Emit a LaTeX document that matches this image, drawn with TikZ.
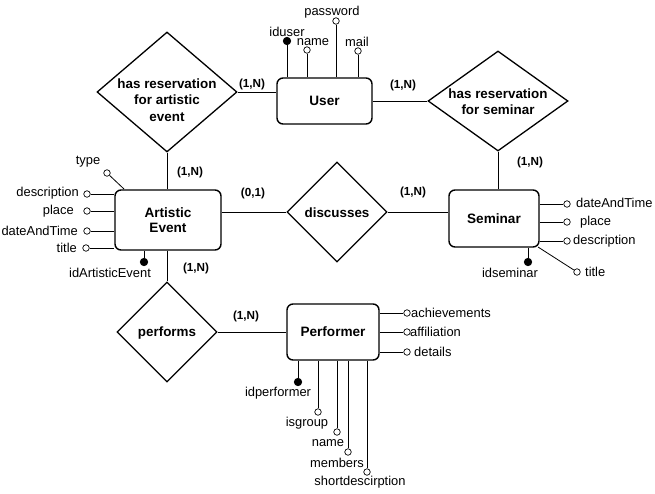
\documentclass[tikz,border=0pt]{standalone}
\usepackage{fontspec}
\setmainfont{Liberation Sans}
\usetikzlibrary{shapes.geometric,calc}
\begin{document}
\begin{tikzpicture}[x=1pt,y=-1pt,
  entity/.style={draw,line width=1.4pt,rounded corners=6pt,fill=white,inner sep=0pt,
    font=\fontsize{13.6}{15.5}\selectfont\bfseries,align=center},
  rel/.style={draw,diamond,line width=1.3pt,inner sep=0pt,fill=white},
  reltext/.style={font=\fontsize{13.4}{16.5}\selectfont\bfseries,align=center,inner sep=0pt},
  card/.style={font=\fontsize{11.7}{13}\selectfont\bfseries,inner sep=0pt},
  lbl/.style={font=\fontsize{12.9}{14}\selectfont,inner sep=0pt},
  attr/.style={circle,draw,fill=white,inner sep=0pt,minimum size=6.5pt,line width=0.7pt},
  keyattr/.style={circle,draw,fill=black,inner sep=0pt,minimum size=7.5pt,line width=0.7pt},
  conn/.style={line width=0.8pt},
]
\useasboundingbox (0,0) rectangle (655,493);

% entities
\node[entity,minimum width=95pt,minimum height=46pt] (user) at (324.5,101) {User};
\node[entity,minimum width=106pt,minimum height=60pt] (ae) at (168,220) {Artistic\\Event};
\node[entity,minimum width=90pt,minimum height=57pt] (sem) at (494,218.5) {Seminar};
\node[entity,minimum width=92pt,minimum height=56pt] (perf) at (333,332) {Performer};

% relationships
\node[rel,minimum width=140pt,minimum height=120pt] (hra) at (167,92) {};
\node[reltext] (hra-t) at (167,100) {has reservation\\for artistic\\event};
\node[rel,minimum width=140pt,minimum height=100pt] (hrs) at (498,101) {};
\node[reltext] (hrs-t) at (498,101.5) {has reservation\\for seminar};
\node[rel,minimum width=100pt,minimum height=100pt] (disc) at (337,212) {};
\node[reltext] (disc-t) at (337,213) {discusses};
\node[rel,minimum width=100pt,minimum height=100pt] (perfm) at (167,332) {};
\node[reltext] (perfm-t) at (167,333) {performs};

% relationship connectors
\draw[conn] (hra.east) -- (hra.east -| user.west);
\draw[conn] (hrs.west -| user.east) -- (hrs.west);
\draw[conn] (hra.south) -- (hra.south |- ae.north);
\draw[conn] (hrs.south) -- (hrs.south |- sem.north);
\draw[conn] (disc.west -| ae.east) -- (disc.west);
\draw[conn] (disc.east) -- (disc.east -| sem.west);
\draw[conn] (ae.south -| perfm.north) -- (perfm.north);
\draw[conn] (perfm.east) -- (perf.west);

% cardinalities
\node[card] (c1) at (252,84) {(1,N)};
\node[card] (c2) at (403,85) {(1,N)};
\node[card] (c3) at (190,172) {(1,N)};
\node[card] (c4) at (530,162) {(1,N)};
\node[card] (c5) at (253,193) {(0,1)};
\node[card] (c6) at (413,192) {(1,N)};
\node[card] (c7) at (196,268) {(1,N)};
\node[card] (c8) at (246,316) {(1,N)};

% User attributes
\node[keyattr] (u-id) at (287,41) {};
\node[attr] (u-name) at (307,50) {};
\node[attr] (u-pw) at (336,21) {};
\node[attr] (u-mail) at (358,51) {};
\foreach \a in {u-id,u-name,u-pw,u-mail} \draw[conn] (\a) -- (\a |- user.north);
\node[lbl] (u-id-l) at (287,32) {iduser};
\node[lbl] (u-name-l) at (313,42) {name};
\node[lbl] (u-pw-l) at (332,12) {password};
\node[lbl] (u-mail-l) at (357,42) {mail};

% Artistic Event attributes
\node[attr] (e-type) at (107,173) {};
\coordinate (e-type-c) at (124,189);
\draw[conn] (e-type) -- (e-type-c);
\node[lbl] (e-type-l) at (88,162) {type};
\node[attr] (e-desc) at (87,194) {};
\node[attr] (e-place) at (87,211) {};
\node[attr] (e-date) at (87,231) {};
\node[attr] (e-title) at (86,248) {};
\foreach \a in {e-desc,e-place,e-date,e-title} \draw[conn] (\a) -- (\a -| ae.west);
\node[lbl,anchor=east] (e-desc-l) at (79,193) {description};
\node[lbl,anchor=east] (e-place-l) at (74,211) {place};
\node[lbl,anchor=east] (e-date-l) at (78,231) {dateAndTime};
\node[lbl,anchor=east] (e-title-l) at (77,248) {title};
\node[keyattr] (e-id) at (144,262) {};
\draw[conn] (e-id) -- (e-id |- ae.south);
\node[lbl] (e-id-l) at (110,273) {idArtisticEvent};

% Seminar attributes
\node[attr] (s-date) at (567,204) {};
\node[attr] (s-place) at (567,222) {};
\node[attr] (s-desc) at (567,241) {};
\foreach \a in {s-date,s-place,s-desc} \draw[conn] (\a -| sem.east) -- (\a);
\node[lbl,anchor=west] (s-date-l) at (576,203) {dateAndTime};
\node[lbl,anchor=west] (s-place-l) at (580,222) {place};
\node[lbl,anchor=west] (s-desc-l) at (573,241) {description};
\node[attr] (s-title) at (577,272) {};
\coordinate (s-title-c) at (538,247);
\draw[conn] (s-title-c) -- (s-title);
\node[lbl,anchor=west] (s-title-l) at (585,272) {title};
\node[keyattr] (s-id) at (528,262) {};
\draw[conn] (s-id) -- (s-id |- sem.south);
\node[lbl] (s-id-l) at (510,273) {idseminar};

% Performer attributes
\node[attr] (p-ach) at (407,313) {};
\node[attr] (p-aff) at (407,332) {};
\node[attr] (p-det) at (407,352) {};
\foreach \a in {p-ach,p-aff,p-det} \draw[conn] (\a -| perf.east) -- (\a);
\node[lbl,anchor=west] (p-ach-l) at (411,313) {achievements};
\node[lbl,anchor=west] (p-aff-l) at (410,332) {affiliation};
\node[lbl,anchor=west] (p-det-l) at (414,352) {details};
\node[keyattr] (p-id) at (298,382) {};
\node[attr] (p-grp) at (318,412) {};
\node[attr] (p-name) at (337,432) {};
\node[attr] (p-mem) at (348,452) {};
\node[attr] (p-sd) at (367,472) {};
\foreach \a in {p-id,p-grp,p-name,p-mem,p-sd} \draw[conn] (\a) -- (\a |- perf.south);
\node[lbl] (p-id-l) at (278,393) {idperformer};
\node[lbl] (p-grp-l) at (307,423) {isgroup};
\node[lbl] (p-name-l) at (328,443) {name};
\node[lbl] (p-mem-l) at (337,463) {members};
\node[lbl] (p-sd-l) at (360,482) {shortdescirption};
\end{tikzpicture}
\end{document}
